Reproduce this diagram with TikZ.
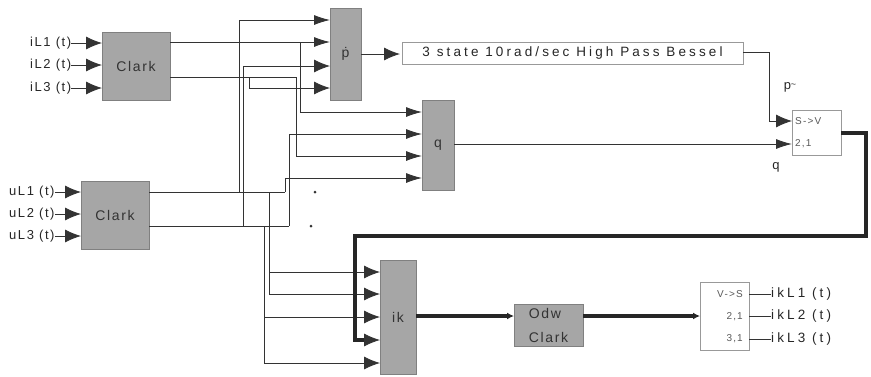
\documentclass[tikz,border=0pt]{standalone}
\usepackage{fontspec}
\setmainfont[LetterSpace=12]{Liberation Sans}
\newfontfamily\widefont[LetterSpace=23]{Liberation Sans}
\usetikzlibrary{arrows.meta,positioning}

\begin{document}
\begin{tikzpicture}[x=1pt,y=-1pt,>={Latex[length=16pt,width=13pt]},
  blk/.style={draw=black!50,fill=black!35,inner sep=0pt,font=\fontsize{14}{24}\selectfont,text=black!80},
  box/.style={draw=black!40,fill=white,inner sep=0pt},
  lbl/.style={inner sep=0pt,font=\fontsize{13}{15}\selectfont,text=black!85},
  widelbl/.style={inner sep=0pt,font=\fontsize{13.5}{15}\widefont,text=black!85},
  tinylbl/.style={inner sep=0pt,font=\fontsize{10}{12}\selectfont,text=black!65},
  wire/.style={draw=black!80,line width=.8pt},
  thick wire/.style={draw=black!85,line width=3.5pt},
  nar/.style={>={Latex[length=16pt,width=10pt]}}]
  \useasboundingbox (0,0) rectangle (871,376);
  % blocks
  \node[blk,minimum width=68pt,minimum height=68pt] (clarki) at (136,66) {Clark};
  \node[blk,minimum width=68pt,minimum height=68pt] (clarku) at (115,215) {Clark};
  \node[blk,minimum width=31pt,minimum height=92pt] (pblk) at (345.5,54) {ṗ};
  \node[blk,minimum width=32pt,minimum height=90pt] (qblk) at (438,145) {q};
  \node[blk,minimum width=36pt,minimum height=114pt] (ikblk) at (398,317) {ik};
  \node[blk,minimum width=69pt,minimum height=42pt,align=left] (odw) at (548.5,325) {Odw\\Clark};
  \node[box,widelbl,minimum width=341pt,minimum height=22pt] (filt) at (572.5,53) {3 state 10rad/sec High Pass Bessel};
  \node[box,minimum width=49pt,minimum height=45pt] (sv) at (816.5,132.5) {};
  \node[box,minimum width=49pt,minimum height=68pt] (vs) at (724.5,316) {};
  % texts in the small boxes
  \node[tinylbl,anchor=west] (svt) at (795,121) {S->V};
  \node[tinylbl,anchor=west] (svn) at (795,144) {2,1};
  \node[tinylbl,anchor=east] (vst) at (743,294) {V->S};
  \node[tinylbl,anchor=east] (vsn) at (743,317) {2,1};
  \node[tinylbl,anchor=east] (vsm) at (743,339) {3,1};
  % signals in and out
  \node[lbl,anchor=west] (il1) at (30,43) {iL1 (t)};
  \node[lbl,anchor=west] (il2) at (30,65) {iL2 (t)};
  \node[lbl,anchor=west] (il3) at (30,88) {iL3 (t)};
  \node[lbl,anchor=west] (ul1) at (9,192) {uL1 (t)};
  \node[lbl,anchor=west] (ul2) at (9,214) {uL2 (t)};
  \node[lbl,anchor=west] (ul3) at (9,236) {uL3 (t)};
  \node[widelbl,anchor=west] (ik1) at (771,294) {ikL1 (t)};
  \node[widelbl,anchor=west] (ik2) at (771,316) {ikL2 (t)};
  \node[widelbl,anchor=west] (ik3) at (771,339) {ikL3 (t)};
  \node[lbl] (ptil) at (790,87) {p\raisebox{2pt}{\fontsize{9}{9}\selectfont\textasciitilde}};
  \node[lbl] (qlab) at (776,167) {q};
  % ports
  \coordinate (ci1) at (102,43); \coordinate (ci2) at (102,65); \coordinate (ci3) at (102,88);
  \coordinate (cu1) at (81,192); \coordinate (cu2) at (81,214); \coordinate (cu3) at (81,236);
  \coordinate (co1) at (170,42); \coordinate (co2) at (170,77);
  \coordinate (cv1) at (149,192); \coordinate (cv2) at (149,226);
  \coordinate (pi1) at (330,20); \coordinate (pi2) at (330,42);
  \coordinate (pi3) at (330,66); \coordinate (pi4) at (330,88);
  \coordinate (po) at (361,54); \coordinate (fi) at (400,54);
  \coordinate (qi1) at (422,112); \coordinate (qi2) at (422,134);
  \coordinate (qi3) at (422,156); \coordinate (qi4) at (422,178);
  \coordinate (qo) at (454,144);
  \coordinate (ki1) at (380,272); \coordinate (ki2) at (380,294); \coordinate (ki3) at (380,317);
  \coordinate (ki4) at (380,340); \coordinate (ki5) at (380,363);
  \coordinate (ko) at (416,316); \coordinate (oi) at (514,316); \coordinate (oo) at (583,316);
  \coordinate (si1) at (792,121); \coordinate (si2) at (792,144);
  \coordinate (so) at (841,133);
  \coordinate (fo) at (743,52);
  \coordinate (vi) at (700,316);
  \coordinate (vo1) at (749,294); \coordinate (vo2) at (749,316); \coordinate (vo3) at (749,339);
  % junctions
  \coordinate (ja) at (300,42); \coordinate (jb) at (296,77); \coordinate (jc) at (249,77);
  \coordinate (jd) at (239,192); \coordinate (je) at (243,226); \coordinate (jf) at (285,192);
  \coordinate (jg) at (289,226); \coordinate (jh) at (269,192); \coordinate (ji) at (264,226);
  \coordinate (jk) at (269,272); \coordinate (jl) at (264,317);
  \coordinate (jm) at (769,52); \coordinate (jn) at (866,133); \coordinate (jo) at (866,236);
  \coordinate (jp) at (355,236); \coordinate (jq) at (355,340); \coordinate (jr) at (368,340);
  % arrows at the inputs
  \draw[wire,->] (il1)--(ci1);\draw[wire,->] (il2)--(ci2);\draw[wire,->] (il3)--(ci3);
  \draw[wire,->] (ul1)--(cu1);\draw[wire,->] (ul2)--(cu2);\draw[wire,->] (ul3)--(cu3);
  % p and q
  \draw[wire,->,nar] (co1)--(pi2);
  \draw[wire,->,nar] (ja) |- (qi1);
  \draw[wire] (co2)--(jb);
  \draw[wire,->] (jc) |- (pi4);
  \draw[wire,->,nar] (jb) |- (qi3);
  \draw[wire] (cv1)--(jf);
  \draw[wire] (cv2)--(jg);
  \draw[wire,->,nar] (jd) |- (pi1);
  \draw[wire,->] (je) |- (pi3);
  \draw[wire,->,nar] (jf) |- (qi4);
  \draw[wire,->,nar] (jg) |- (qi2);
  % ik
  \draw[wire,->] (jh)--(jk)--(ki1);
  \draw[wire,->] (jk) |- (ki2);
  \draw[wire,->] (ji)--(jl)--(ki3);
  \draw[wire,->] (jl) |- (ki5);
  % the rest
  \draw[wire,->] (po)--(fi);
  \draw[wire,->,nar] (qo)--(si2);
  \draw[wire] (fo)--(jm);
  \draw[wire,->] (jm) |- (si1);
  \draw[wire] (vo1)--(ik1);\draw[wire] (vo2)--(ik2);\draw[wire] (vo3)--(ik3);
  \draw[thick wire] (so)--(jn)--(jo)--(jp)--(jq)--(jr);
  \draw[wire,->] (jr)--(ki4);
  \draw[thick wire,-{Latex[length=7pt,width=7pt]}] (ko)--(oi);
  \draw[thick wire,-{Latex[length=7pt,width=7pt]}] (oo)--(vi);
  % two stray dots
  \node[circle,fill=black!80,inner sep=0pt,minimum size=3pt] (dota) at (315,192) {};
  \node[circle,fill=black!80,inner sep=0pt,minimum size=3pt] (dotb) at (311,226) {};
\end{tikzpicture}
\end{document}
